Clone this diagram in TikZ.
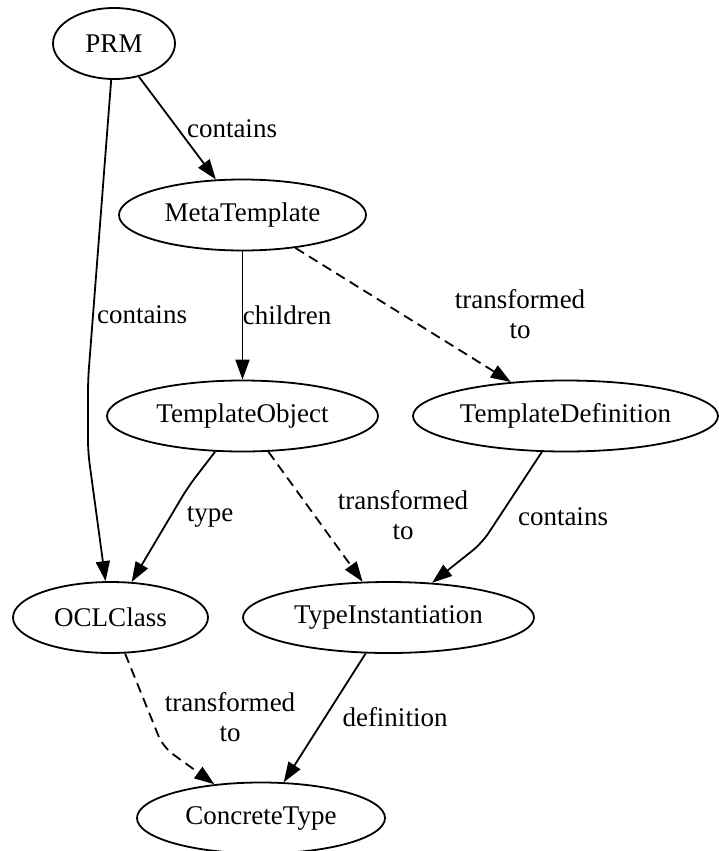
\documentclass[tikz,border=0pt]{standalone}
\usepackage{fontspec}
\setmainfont{Liberation Serif}
\usetikzlibrary{shapes.geometric,arrows.meta}
\begin{document}
\begin{tikzpicture}[x=0.5pt,y=-0.5pt,
  every node/.style={font=\fontsize{13.5}{15}\selectfont},
  entity/.style={ellipse, draw, line width=0.9pt, inner sep=0pt, minimum height=35.5pt},
  rel/.style={line width=0.9pt, -{Triangle[length=10pt,width=7pt]}, rounded corners=6pt},
  xform/.style={rel, dash pattern=on 5pt off 3pt},
  lbl/.style={align=center, inner sep=0pt}]
  \useasboundingbox (0,0) rectangle (718,851);

  % classes
  \node[entity, minimum width=61pt]    (prm)  at (114,43.5)   {PRM};
  \node[entity, minimum width=123.5pt] (meta) at (242.5,215)  {MetaTemplate};
  \node[entity, minimum width=135.5pt] (tobj) at (242.5,416)  {TemplateObject};
  \node[entity, minimum width=152.5pt] (tdef) at (565.5,416)  {TemplateDefinition};
  \node[entity, minimum width=97.5pt]  (ocl)  at (110.5,617.5){OCLClass};
  \node[entity, minimum width=145.5pt] (tins) at (388.5,617.5){TypeInstantiation};
  \node[entity, minimum width=124pt]   (ctyp) at (261,818)    {ConcreteType};

  % bend points
  \coordinate (b1) at (88,380);
  \coordinate (b2) at (88,452);
  \coordinate (b3) at (188,487);
  \coordinate (b4) at (482,543);
  \coordinate (b5) at (163,747);

  % relations
  \draw[rel] (prm) -- (meta);
  \draw[rel] (prm) -- (b1) -- (b2) -- (ocl);
  \draw[rel] (meta) -- (tobj);
  \draw[xform] (meta) -- (tdef);
  \draw[rel] (tobj) -- (b3) -- (ocl);
  \draw[xform] (tobj) -- (tins);
  \draw[rel] (tdef) -- (b4) -- (tins);
  \draw[xform] (ocl) -- (b5) -- (ctyp);
  \draw[rel] (tins) -- (ctyp);

  % labels
  \node[lbl] (l1) at (232,129) {contains};
  \node[lbl] (l2) at (142,315) {contains};
  \node[lbl] (l3) at (287,315) {children};
  \node[lbl] (l4) at (520,314) {transformed\\to};
  \node[lbl] (l5) at (210,517) {type};
  \node[lbl] (l6) at (403,515) {transformed\\to};
  \node[lbl] (l7) at (563,517) {contains};
  \node[lbl] (l8) at (230,717) {transformed\\to};
  \node[lbl] (l9) at (395,717) {definition};
\end{tikzpicture}
\end{document}
